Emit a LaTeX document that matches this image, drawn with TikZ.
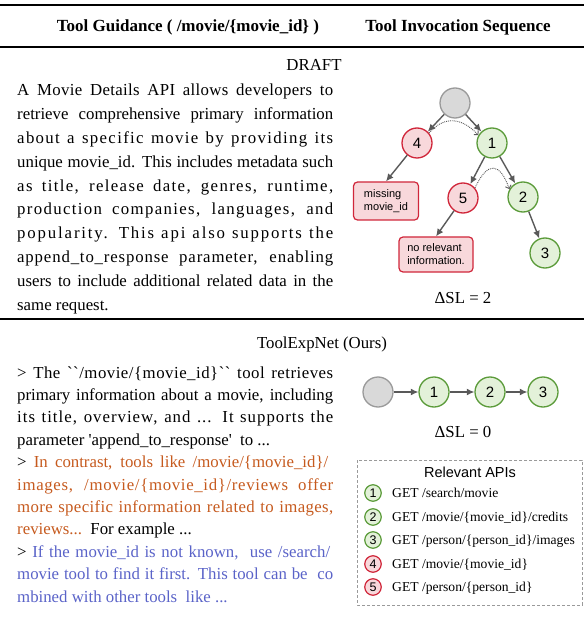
\documentclass[tikz,border=0pt]{standalone}
\usepackage{fontspec}
\setmainfont{Liberation Serif}[Ligatures=TeXOff]
\newfontfamily\arialf{Liberation Sans}
\usetikzlibrary{arrows.meta}
\definecolor{gfill}{HTML}{E3F1D9}
\definecolor{gdraw}{HTML}{5B9B3A}
\definecolor{rfill}{HTML}{F8D8DB}
\definecolor{rdraw}{HTML}{D0263A}
\definecolor{nfill}{HTML}{D9D9D9}
\definecolor{ndraw}{HTML}{9A9A9A}
\definecolor{arr}{HTML}{595959}
\definecolor{orangetxt}{HTML}{C65A1E}
\definecolor{bluetxt}{HTML}{5A63C8}
\newcommand\jl[1]{\makebox[316pt][s]{#1}}
\newcommand\ls[2]{{\addfontfeature{LetterSpace=#1}#2}}
\begin{document}
\begin{tikzpicture}[x=1pt,y=-1pt,
  body/.style={anchor=base west, inner sep=0pt, font=\fontsize{16.8}{20}\selectfont},
  hdr/.style={anchor=base, inner sep=0pt, font=\bfseries\fontsize{17}{20}\selectfont},
  ttl/.style={anchor=base, inner sep=0pt, font=\fontsize{16.8}{20}\selectfont},
  gnode/.style={circle, draw=gdraw, fill=gfill, line width=1.3pt, minimum size=30pt, inner sep=0pt, font=\arialf\fontsize{15}{17}\selectfont},
  rnode/.style={circle, draw=rdraw, fill=rfill, line width=1.3pt, minimum size=30pt, inner sep=0pt, font=\arialf\fontsize{15}{17}\selectfont},
  root/.style={circle, draw=ndraw, fill=nfill, line width=1.3pt, minimum size=30pt, inner sep=0pt},
  sg/.style={circle, draw=gdraw, fill=gfill, line width=1.2pt, minimum size=16.5pt, inner sep=0pt, font=\arialf\fontsize{12.5}{13}\selectfont},
  sr/.style={circle, draw=rdraw, fill=rfill, line width=1.2pt, minimum size=16.5pt, inner sep=0pt, font=\arialf\fontsize{12.5}{13}\selectfont},
  rbox/.style={draw=rdraw, fill=rfill, line width=1.2pt, rounded corners=4pt, align=left, inner sep=3pt, font=\arialf\fontsize{11}{13}\selectfont},
  arrw/.style={draw=arr, line width=1.4pt, -{Latex[length=7.5pt,width=7pt]}},
  dotarr/.style={draw=arr, line width=0.9pt, densely dotted, -{Straight Barb[length=3pt,width=6pt]}},
  api/.style={anchor=base west, inner sep=0pt, font=\fontsize{13.6}{16}\selectfont},
  rule/.style={line width=2pt}]
\useasboundingbox (0,0) rectangle (584,617);

% rules
\coordinate (r1a) at (0,5); \coordinate (r1b) at (584,5);
\coordinate (r2a) at (0,47); \coordinate (r2b) at (584,47);
\coordinate (r3a) at (0,319); \coordinate (r3b) at (584,319);
\draw[rule] (r1a) -- (r1b);
\draw[rule] (r2a) -- (r2b);
\draw[rule] (r3a) -- (r3b);

% header
\node[hdr] (h1) at (188,32) {Tool Guidance ( /movie/\{movie\_id\} )};
\node[hdr] (h2) at (458,32) {Tool Invocation Sequence};
\node[ttl] (draft) at (314,71) {DRAFT};

% top paragraph
\node[body] (p1) at (17,95.5) {\jl{\ls{2}{A Movie Details API allows developers to}}};
\node[body] (p2) at (17,119.4) {\jl{retrieve comprehensive primary information}};
\node[body] (p3) at (17,143.3) {\jl{\ls{8}{about a specific movie by providing its}}};
\node[body] (p4) at (17,167.2) {\jl{unique movie\_id. This includes metadata such}};
\node[body] (p5) at (17,191.1) {\jl{\ls{8}{as title, release date, genres, runtime,}}};
\node[body] (p6) at (17,215.0) {\jl{\ls{8}{production companies, languages, and}}};
\node[body] (p7) at (17,238.9) {\jl{\ls{11}{popularity. This api also supports the}}};
\node[body] (p8) at (17,262.8) {\jl{\ls{5}{append\_to\_response parameter, enabling}}};
\node[body] (p9) at (17,286.7) {\jl{users to include additional related data in the}};
\node[body] (p10) at (17,310.6) {same request.};

% tree (draft)
\node[root] (n0) at (455,103) {};
\node[rnode] (n4) at (417,143) {4};
\node[gnode] (n1) at (492,143) {1};
\node[rnode] (n5) at (463,198) {5};
\node[gnode] (n2) at (523,197) {2};
\node[gnode] (n3) at (545,253) {3};
\node[rbox, minimum width=65pt, minimum height=38pt] (b4) at (386,201) {missing\\movie\_id};
\node[rbox, minimum width=74pt, minimum height=35pt] (b5) at (436,254.5) {no relevant\\information.};
\draw[arrw] (n0) -- (n4);
\draw[arrw] (n0) -- (n1);
\draw[arrw] (n4) -- (b4.north);
\draw[arrw] (n1) -- (n5);
\draw[arrw] (n1) -- (n2);
\draw[arrw] (n5) -- (b5.north);
\draw[arrw] (n2) -- (n3);
\draw[dotarr] (n4.40) .. controls (445,115) and (462,118) .. (n1.150);
\draw[dotarr] (n5.40) .. controls (488,160) and (500,163) .. (n2.150);
\node[ttl] (dsl1) at (463,303) {ΔSL = 2};

% bottom title
\node[ttl] (ours) at (322,348) {ToolExpNet (Ours)};

% bottom paragraph
\node[body] (q1) at (17,378) {\jl{\ls{3}{> The ``/movie/\{movie\_id\}`` tool retrieves}}};
\node[body] (q2) at (17,400.4) {\jl{primary information about a movie, including}};
\node[body] (q3) at (17,422.8) {\jl{\ls{6}{its title, overview, and ... It supports the}}};
\node[body] (q4) at (17,445.2) {parameter 'append\_to\_response'\ \ to ...};
\node[body] (q5) at (17,467.6) {\makebox[311pt][s]{> \textcolor{orangetxt}{In contrast, tools like /movie/\{movie\_id\}/}}};
\node[body, text=orangetxt] (q6) at (17,490) {\jl{\ls{4}{images, /movie/\{movie\_id\}/reviews offer}}};
\node[body, text=orangetxt] (q7) at (17,512.4) {\jl{\ls{2}{more specific information related to images,}}};
\node[body] (q8) at (17,534.8) {\textcolor{orangetxt}{reviews...}\ \ For example ...};
\node[body] (q9) at (17,557.2) {\makebox[313pt][s]{> \textcolor{bluetxt}{If the movie\_id is not known,\ \ use /search/}}};
\node[body, text=bluetxt] (q10) at (17,579.6) {\jl{movie tool to find it first. This tool can be\ \ co}};
\node[body, text=bluetxt] (q11) at (17,602) {mbined with other tools\ \ like ...};

% chain (ours)
\node[root] (m0) at (378,392) {};
\node[gnode] (m1) at (434,392) {1};
\node[gnode] (m2) at (490,392) {2};
\node[gnode] (m3) at (543,392) {3};
\draw[arrw] (m0) -- (m1);
\draw[arrw] (m1) -- (m2);
\draw[arrw] (m2) -- (m3);
\node[ttl] (dsl2) at (463,437) {ΔSL = 0};

% relevant APIs
\coordinate (boxa) at (357,460);
\coordinate (boxb) at (582,605);
\draw[draw=ndraw, line width=1pt, dash pattern=on 3pt off 2pt] (boxa) rectangle (boxb);
\node[anchor=base, inner sep=0pt, font=\arialf\fontsize{14.5}{17}\selectfont] (rt) at (470,477) {Relevant APIs};
\node[sg] (l1) at (373,493) {1};
\node[sg] (l2) at (373,517) {2};
\node[sg] (l3) at (373,540) {3};
\node[sr] (l4) at (373,564) {4};
\node[sr] (l5) at (373,587) {5};
\node[api] (a1) at (392,497.5) {GET /search/movie};
\node[api] (a2) at (392,521.5) {GET /movie/\{movie\_id\}/credits};
\node[api] (a3) at (392,544.5) {GET /person/\{person\_id\}/images};
\node[api] (a4) at (392,568.5) {GET /movie/\{movie\_id\}};
\node[api] (a5) at (392,591.5) {GET /person/\{person\_id\}};
\end{tikzpicture}
\end{document}
